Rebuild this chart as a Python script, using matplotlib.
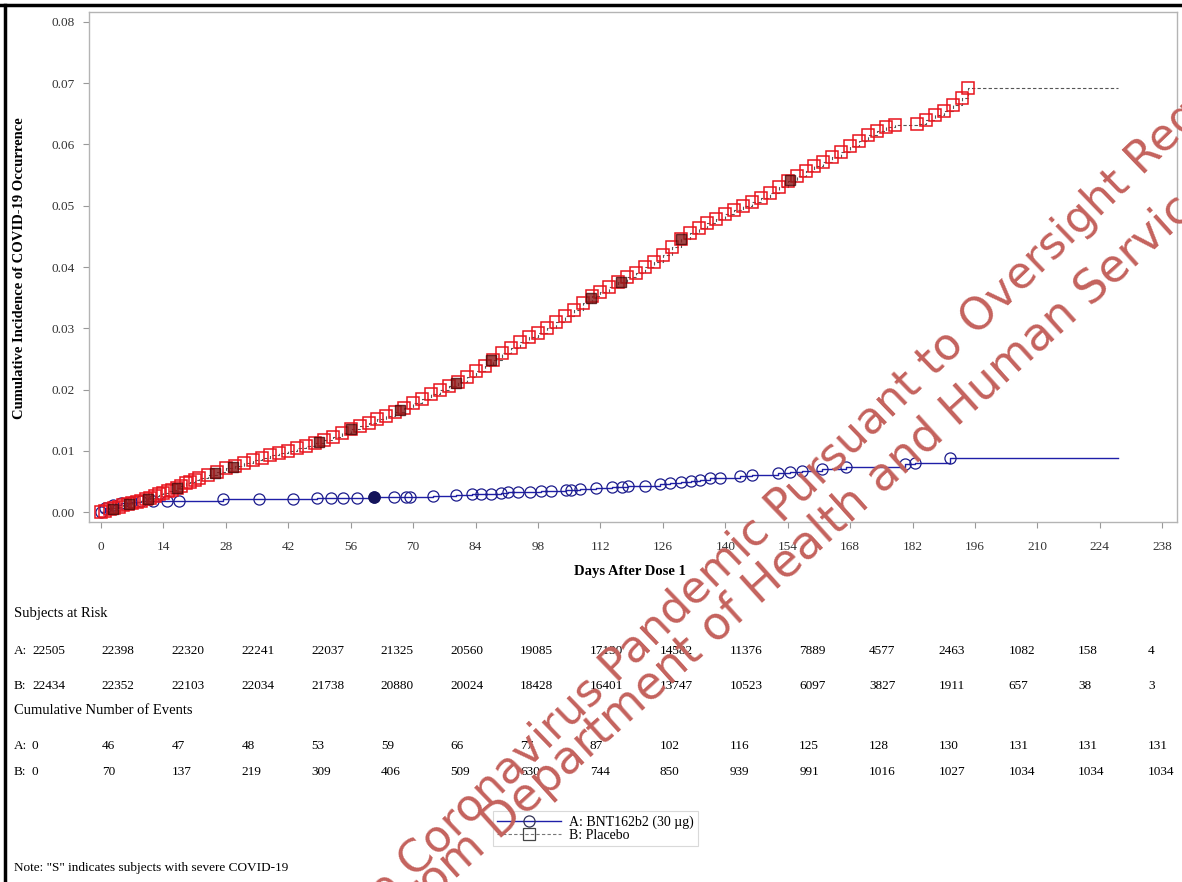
import matplotlib
matplotlib.use("Agg")
from matplotlib import pyplot as plt
from matplotlib.lines import Line2D

W, H = 1182, 882

# Kaplan-Meier style cumulative incidence
days_a = [0, 0.9, 2.7, 4.5, 6.7, 9, 11.6, 14.8, 17.5, 27.3, 35.4, 43, 48.4, 51.5, 54.2,
          57.3, 61.2, 65.6, 68.5, 69.4, 74.4, 79.7, 83.3, 85.1, 87.4, 89.6, 91.2, 93.4,
          96.3, 98.6, 100.8, 104.2, 105.3, 107.5, 111.1, 114.7, 116.9, 118.1, 122.1,
          125.4, 127.7, 130, 132.2, 134.4, 136.6, 138.9, 143.4, 146, 151.9, 154.6,
          157.3, 161.7, 167.1, 180.3, 182.6, 190.4]
inc_a = [0, 0.00065, 0.0011, 0.0015, 0.0016, 0.0018, 0.0018, 0.0018, 0.0018, 0.0021,
         0.0021, 0.0021, 0.0023, 0.0023, 0.0023, 0.0023, 0.0024, 0.0024, 0.0024, 0.0024,
         0.0026, 0.0028, 0.0029, 0.0029, 0.0029, 0.0031, 0.0033, 0.0033, 0.0033, 0.0034,
         0.0034, 0.0036, 0.0036, 0.0038, 0.0039, 0.0041, 0.0041, 0.0042, 0.0043, 0.0046,
         0.0048, 0.0050, 0.0051, 0.0053, 0.0055, 0.0056, 0.0059, 0.0060, 0.0064, 0.0066,
         0.0068, 0.0071, 0.0073, 0.0078, 0.0081, 0.0088]

days_b = [0, 1, 2, 3, 4, 5, 6, 7, 8, 9, 10, 11, 12, 13, 14, 15, 16, 17, 18, 19, 20, 21,
          22, 24, 26, 28, 30, 32, 34, 36, 38, 40, 42, 44, 46, 48, 50, 52, 54, 56, 58, 60,
          62, 64, 66, 68, 70, 72, 74, 76, 78, 80, 82, 84, 86, 88, 90, 92, 94, 96, 98, 100,
          102, 104, 106, 108, 110, 112, 114, 116, 118, 120, 122, 124, 126, 128, 130, 132,
          134, 136, 138, 140, 142, 144, 146, 148, 150, 152, 154, 156, 158, 160, 162, 164,
          166, 168, 170, 172, 174, 176, 178, 183, 185, 187, 189, 191, 193, 194.5]
inc_b = [0, 0.0002, 0.0005, 0.0007, 0.0009, 0.0011, 0.0013, 0.0015, 0.0017, 0.0019,
         0.0021, 0.0023, 0.0026, 0.0029, 0.0031, 0.0034, 0.0037, 0.0040, 0.0043, 0.0047,
         0.0050, 0.0053, 0.0056, 0.0061, 0.0066, 0.0072, 0.0076, 0.0080, 0.0085, 0.0089,
         0.0093, 0.0097, 0.0100, 0.0104, 0.0108, 0.0113, 0.0118, 0.0123, 0.0129, 0.0135,
         0.0141, 0.0146, 0.0152, 0.0157, 0.0163, 0.0170, 0.0178, 0.0185, 0.0192, 0.0199,
         0.0206, 0.0213, 0.0221, 0.0230, 0.0239, 0.0249, 0.0259, 0.0268, 0.0277, 0.0285,
         0.0292, 0.0300, 0.0310, 0.0320, 0.0330, 0.0341, 0.0352, 0.0360, 0.0368, 0.0375,
         0.0383, 0.0391, 0.0400, 0.0408, 0.0420, 0.0433, 0.0445, 0.0455, 0.0463, 0.0471,
         0.0479, 0.0486, 0.0493, 0.0500, 0.0506, 0.0513, 0.0521, 0.0530, 0.0540, 0.0548,
         0.0556, 0.0564, 0.0572, 0.0580, 0.0588, 0.0597, 0.0606, 0.0615, 0.0622, 0.0628,
         0.0631, 0.0634, 0.0640, 0.0648, 0.0655, 0.0665, 0.0676, 0.0692]
end_day = 228

# severe cases ("S")
sev_days_a = [61.2]
sev_inc_a = [0.0024]
sev_days_b = [2.7, 6.3, 10.5, 17, 25.5, 29.6, 48.8, 56, 67, 79.5, 87.4, 109.8, 116.5, 130, 154.6]
sev_inc_b = [0.0005, 0.0013, 0.0022, 0.0040, 0.0064, 0.0074, 0.0115, 0.0135, 0.0167,
             0.0210, 0.0248, 0.0350, 0.0375, 0.0445, 0.0542]

table_days = list(range(0, 225, 14))
risk_a = [22505, 22398, 22320, 22241, 22037, 21325, 20560, 19085, 17130, 14582, 11376,
          7889, 4577, 2463, 1082, 158, 4]
risk_b = [22434, 22352, 22103, 22034, 21738, 20880, 20024, 18428, 16401, 13747, 10523,
          6097, 3827, 1911, 657, 38, 3]
events_a = [0, 46, 47, 48, 53, 59, 66, 77, 87, 102, 116, 125, 128, 130, 131, 131, 131]
events_b = [0, 70, 137, 219, 309, 406, 509, 630, 744, 850, 939, 991, 1016, 1027, 1034, 1034, 1034]

serif = "Liberation Serif"
plt.rcParams["font.family"] = serif

fig = plt.figure(figsize=(W / 100, H / 100), dpi=100)
ax = fig.add_axes([89 / W, 1 - 522 / H, (1177 - 89) / W, (522 - 12) / H])

blue = "#1f1fa8"
ax.step(days_a + [end_day], inc_a + [inc_a[-1]], where="post", color=blue, lw=1.0, zorder=2)
ax.plot(days_a, inc_a, ls="none", marker="o", ms=8, mfc="none", mec="#1c1c8c", mew=0.9, zorder=3)
ax.plot(sev_days_a, sev_inc_a, ls="none", marker="o", ms=8, mfc="#14145a", mec="#14145a", zorder=4)

ax.step(days_b + [end_day], inc_b + [inc_b[-1]], where="post", color="#555555",
        ls=(0, (3, 2)), lw=0.8, zorder=2)
ax.plot(days_b, inc_b, ls="none", marker="s", ms=8.5, mfc="none", mec="#e8141c", mew=1.1, zorder=3)
ax.plot(sev_days_b, sev_inc_b, ls="none", marker="s", ms=7.5, mfc="#8a1a1a", mec="#4a0a0a",
        alpha=0.8, zorder=4)

ax.set_xlim(-2.7, 241.3)
ax.set_ylim(-0.0016, 0.0816)
ax.set_xticks(range(0, 239, 14))
ax.set_yticks([i / 100 for i in range(9)])
ax.set_yticklabels([f"{i / 100:.2f}" for i in range(9)])
for s in ax.spines.values():
    s.set_color("#b4b4b4")
    s.set_linewidth(1.0)
ax.tick_params(direction="out", length=4, color="#999999", labelsize=9.5,
               labelcolor="#333333")
ax.tick_params(axis="y", pad=6)
ax.tick_params(axis="x", pad=10)

fig.text(20 / W, 1 - 268 / H, "Cumulative Incidence of COVID-19 Occurrence", rotation=90,
         ha="center", va="center", fontsize=10.5, fontweight="bold")
fig.text(630 / W, 1 - 572 / H, "Days After Dose 1", ha="center", va="center",
         fontsize=10.5, fontweight="bold")

# number-at-risk / events tables
col_x = [32 + i * 69.75 for i in range(len(table_days))]
fig.text(14 / W, 1 - 613 / H, "Subjects at Risk", va="center", fontsize=10.5)
fig.text(14 / W, 1 - 711 / H, "Cumulative Number of Events", va="center", fontsize=10.5)
for y, lab, vals in [(651, "A:", risk_a), (686, "B:", risk_b),
                     (746, "A:", events_a), (772, "B:", events_b)]:
    fig.text(14 / W, 1 - y / H, lab, va="center", fontsize=9.5)
    for x, v in zip(col_x, vals):
        fig.text(x / W, 1 - y / H, str(v), va="center", fontsize=9.5)

handles = [
    Line2D([], [], color=blue, lw=1.0, marker="o", ms=8, mfc="none", mec="#333355", mew=0.9),
    Line2D([], [], color="#777777", lw=0.8, ls=(0, (3, 2)), marker="s", ms=8, mfc="none",
           mec="#444444", mew=0.9),
]
leg = fig.legend(handles, ["A: BNT162b2 (30 \u00b5g)", "B: Placebo"], loc="upper left",
                 bbox_to_anchor=(486 / W, 1 - 804 / H), frameon=True, fancybox=False,
                 edgecolor="#d0d0d0", fontsize=10, handlelength=4.6, handletextpad=0.6,
                 labelspacing=0.05, borderpad=0.3)
leg.get_frame().set_linewidth(0.8)

fig.text(14 / W, 1 - 868 / H, 'Note: "S" indicates subjects with severe COVID-19',
         va="center", fontsize=9.5)

# page border from the scan
fig.add_artist(Line2D([0, 1], [1 - 5 / H, 1 - 5 / H], color="black", lw=2.5))
fig.add_artist(Line2D([5 / W, 5 / W], [0, 1 - 5 / H], color="black", lw=2.5))

# watermark
wm = dict(rotation_mode="anchor", ha="left", va="baseline", color="#c4625d",
          family="DejaVu Sans", zorder=20)
fig.text(352 / W, 1 - 940 / H, "the Coronavirus Pandemic Pursuant to Oversight Request",
         rotation=44, fontsize=32, **wm)
fig.text(408 / W, 1 - 922 / H, "from Department of Health and Human Services",
         rotation=42, fontsize=33, **wm)

fig.savefig("out.png", dpi=100)
